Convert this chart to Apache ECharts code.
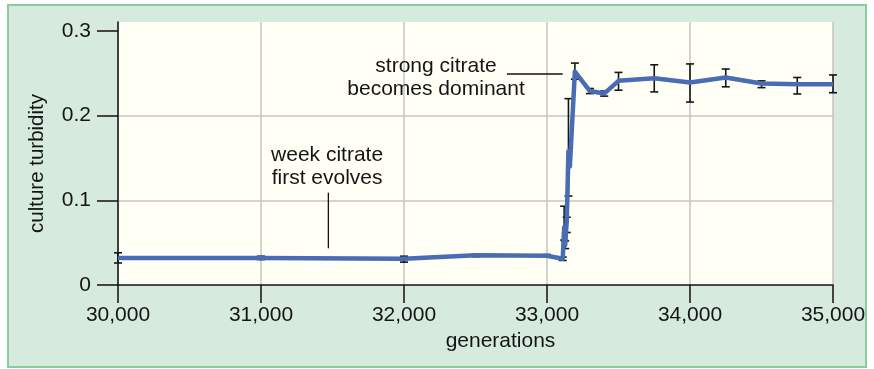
<!DOCTYPE html>
<html>
<head>
<meta charset="utf-8">
<script src="https://cdn.jsdelivr.net/npm/echarts@6/dist/echarts.min.js"></script>
<style>
html,body{margin:0;padding:0;background:#ffffff;}
#frame{position:absolute;left:7px;top:4px;width:860px;height:364px;box-sizing:border-box;border:2px solid #8ccb9b;background:#d6ebdd;}
#chart{position:absolute;left:0;top:0;width:874px;height:369px;}
</style>
</head>
<body>
<div id="frame"></div>
<div id="chart"></div>
<script>
// ---- data ----
const generations = [30000, 31000, 32000, 32500, 33000, 33110, 33120, 33127, 33138, 33150, 33160, 33195, 33300, 33400, 33500, 33750, 34000, 34250, 34500, 34750, 35000];
const turbidity   = [0.032, 0.032, 0.031, 0.035, 0.0345, 0.031, 0.068, 0.047, 0.075, 0.158, 0.140, 0.252, 0.229, 0.226, 0.241, 0.244, 0.239, 0.245, 0.238, 0.237, 0.237];
const errLow      = [0.026, 0.030, 0.027, 0.0335, 0.033, 0.029, 0.053, 0.043, 0.062, 0.105, null, 0.243, 0.226, 0.223, 0.230, 0.228, 0.216, 0.234, 0.233, 0.2255, 0.227];
const errHigh     = [0.038, 0.034, 0.034, 0.0365, 0.036, 0.033, 0.093, 0.052, 0.080, 0.220, null, 0.262, 0.232, 0.229, 0.251, 0.260, 0.261, 0.255, 0.241, 0.245, 0.248];
const yTicks = [0, 0.1, 0.2, 0.3];
const xTicks = [30000, 31000, 32000, 33000, 34000, 35000];
const xAxisTitle = 'generations';
const yAxisTitle = 'culture turbidity';
const noteStrong = 'strong citrate\nbecomes dominant';
const noteWeek = 'week citrate\nfirst evolves';
// annotation anchors in data coordinates [generation, turbidity]
const noteStrongAt = [32224, 0.2444];
const noteStrongLine = [[32720, 0.2491], [33110, 0.2491]];
const noteWeekAt = [31462, 0.1393];
const noteWeekLine = [[31471, 0.109], [31471, 0.0433]];

const FONT = '"Liberation Sans", Arial, Helvetica, sans-serif';
const TXT = '#151515';
const chart = echarts.init(document.getElementById('chart'), null, {renderer: 'canvas'});

const lineData = generations.map((g, i) => [g, turbidity[i]]);
const errData = [];
generations.forEach((g, i) => { if (errLow[i] != null) errData.push([g, errLow[i], errHigh[i]]); });

const option = {
  backgroundColor: 'transparent',
  animation: false,
  grid: {left: 118, right: 41, top: 22, bottom: 84, show: true, backgroundColor: '#fffff5', borderWidth: 0},
  xAxis: {
    type: 'value', min: 30000, max: 35000, interval: 1000,
    name: xAxisTitle, nameLocation: 'middle', nameGap: 46,
    nameTextStyle: {fontFamily: FONT, fontSize: 21, color: TXT, padding: [0, 0, 0, 50]},
    axisLine: {show: true, lineStyle: {color: '#111', width: 1.5}},
    axisTick: {show: true, inside: false, length: 18, lineStyle: {color: '#111', width: 1.5}},
    axisLabel: {fontFamily: FONT, fontSize: 21, color: TXT, margin: 20,
      formatter: v => v.toLocaleString('en-US')},
    splitLine: {show: true, lineStyle: {color: '#c4c4c4', width: 1.5}}
  },
  yAxis: {
    type: 'value', min: 0, max: 0.3105, interval: 0.1,
    name: yAxisTitle, nameLocation: 'middle', nameGap: 70, nameRotate: 90,
    nameTextStyle: {fontFamily: FONT, fontSize: 20.5, color: TXT, padding: [0, 20, 0, 0]},
    axisLine: {show: true, onZero: false, lineStyle: {color: '#111', width: 1.5}},
    axisTick: {show: true, inside: false, length: 21, customValues: yTicks, lineStyle: {color: '#111', width: 1.5}},
    axisLabel: {fontFamily: FONT, fontSize: 21, color: TXT, margin: 27, customValues: yTicks,
      formatter: v => (Math.round(v * 10) / 10).toString()},
    splitLine: {show: true, showMinLine: false, showMaxLine: false, lineStyle: {color: '#c4c4c4', width: 1.5}}
  },
  series: [
    {
      type: 'custom', z: 2,
      data: errData,
      encode: {x: 0, y: [1, 2]},
      renderItem: function (params, api) {
        const x = api.value(0);
        const lo = api.coord([x, api.value(1)]);
        const hi = api.coord([x, api.value(2)]);
        const w = 4;
        const st = {stroke: '#151515', lineWidth: 1.6};
        return {type: 'group', children: [
          {type: 'line', shape: {x1: lo[0], y1: lo[1], x2: hi[0], y2: hi[1]}, style: st},
          {type: 'line', shape: {x1: lo[0] - w, y1: lo[1], x2: lo[0] + w, y2: lo[1]}, style: st},
          {type: 'line', shape: {x1: hi[0] - w, y1: hi[1], x2: hi[0] + w, y2: hi[1]}, style: st}
        ]};
      }
    },
    {
      type: 'line', z: 3,
      data: lineData,
      showSymbol: false, symbol: 'none',
      lineStyle: {color: '#4a6cb4', width: 4.5, join: 'round'},
      itemStyle: {color: '#4a6cb4'}
    }
  ]
};
chart.setOption(option);

const px = p => chart.convertToPixel({gridIndex: 0}, p);
const sA = px(noteStrongAt), sL0 = px(noteStrongLine[0]), sL1 = px(noteStrongLine[1]);
const wA = px(noteWeekAt), wL0 = px(noteWeekLine[0]), wL1 = px(noteWeekLine[1]);
chart.setOption({
  graphic: [
    {type: 'text', z: 10, style: {text: noteStrong, x: sA[0], y: sA[1], align: 'center', verticalAlign: 'middle',
      font: '21px ' + FONT, fill: TXT, lineHeight: 23}},
    {type: 'line', z: 10, shape: {x1: sL0[0], y1: sL0[1], x2: sL1[0], y2: sL1[1]}, style: {stroke: '#111', lineWidth: 1.3}},
    {type: 'text', z: 10, style: {text: noteWeek, x: wA[0], y: wA[1], align: 'center', verticalAlign: 'middle',
      font: '21px ' + FONT, fill: TXT, lineHeight: 23}},
    {type: 'line', z: 10, shape: {x1: wL0[0], y1: wL0[1], x2: wL1[0], y2: wL1[1]}, style: {stroke: '#111', lineWidth: 1.3}}
  ]
});
</script>
</body>
</html>
